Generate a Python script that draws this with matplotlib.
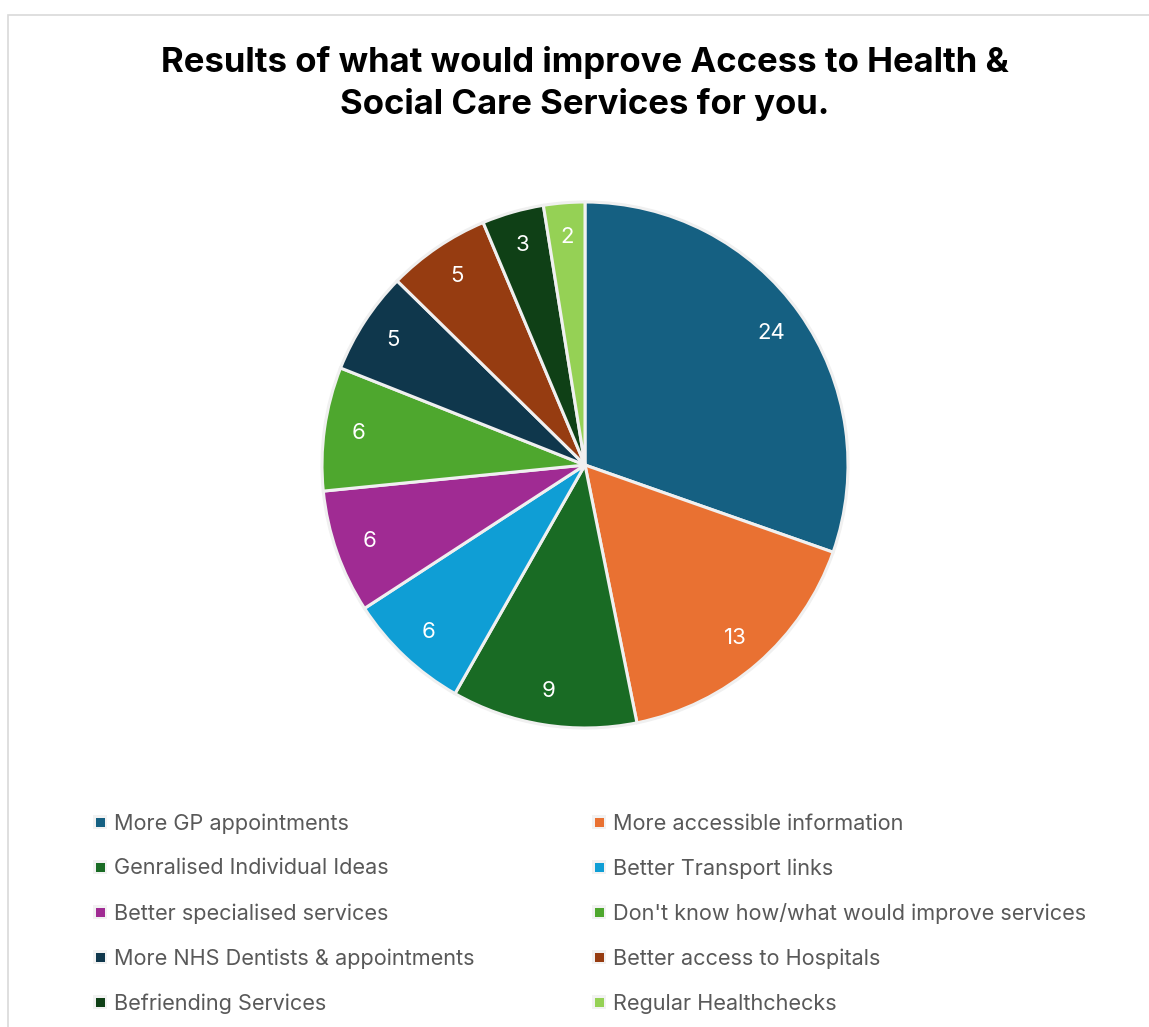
import matplotlib
matplotlib.use("Agg")
import matplotlib.pyplot as plt
from matplotlib.patches import Rectangle

plt.rcParams['font.family'] = ['Inter', 'DejaVu Sans']

# Survey responses
categories = [
    "More GP appointments",
    "More accessible information",
    "Genralised Individual Ideas",
    "Better Transport links",
    "Better specialised services",
    "Don't know how/what would improve services",
    "More NHS Dentists & appointments",
    "Better access to Hospitals",
    "Befriending Services",
    "Regular Healthchecks",
]
counts = [24, 13, 9, 6, 6, 6, 5, 5, 3, 2]
colors = ["#156082", "#E97132", "#196B24", "#0F9ED5", "#A02B93",
          "#4EA72E", "#0F374C", "#963C11", "#0F4016", "#95D155"]

W, H = 1149, 1027
fig = plt.figure(figsize=(W / 100, H / 100), dpi=100)
fig.patch.set_facecolor("white")

# Chart area border
fig.add_artist(Rectangle((8 / W, -0.01), 1.2, (H - 15) / H + 0.01,
                         transform=fig.transFigure, fill=False,
                         edgecolor="#d9d9d9", linewidth=1.2))

fig.text(585 / W, 1 - 83.5 / H,
         "Results of what would improve Access to Health &\nSocial Care Services for you.",
         ha="center", va="center", fontsize=25, fontweight="bold",
         color="black", linespacing=1.34)

# Pie
cx, cy, r = 585, 465, 263
ax = fig.add_axes([(cx - r) / W, (H - cy - r) / H, 2 * r / W, 2 * r / H])
wedges, texts = ax.pie(
    counts, colors=colors, startangle=90, counterclock=False,
    labels=[str(c) for c in counts], labeldistance=0.87,
    wedgeprops=dict(edgecolor="#f0f0f0", linewidth=2.2),
    textprops=dict(color="white", fontsize=16, ha="center", va="center"),
)
ax.set_xlim(-1.0, 1.0)
ax.set_ylim(-1.0, 1.0)
ax.set_aspect("auto")
ax.axis("off")

# Legend in two columns, filled row by row
col_x = [100, 599]
row_y = [822, 867, 912, 957, 1002]
for i, (name, col) in enumerate(zip(categories, colors)):
    x = col_x[i % 2]
    y = row_y[i // 2]
    fig.add_artist(Rectangle(((x - 7) / W, 1 - (y + 7) / H), 14 / W, 14 / H,
                             transform=fig.transFigure, facecolor="#f2f2f2",
                             edgecolor="none"))
    fig.add_artist(Rectangle(((x - 4.5) / W, 1 - (y + 4.5) / H), 9 / W, 9 / H,
                             transform=fig.transFigure, facecolor=col,
                             edgecolor="none"))
    fig.text((x + 14) / W, 1 - (y + 1.5) / H, name, ha="left", va="center",
             fontsize=15.6, color="#595959")

fig.savefig("out.png", dpi=100)
